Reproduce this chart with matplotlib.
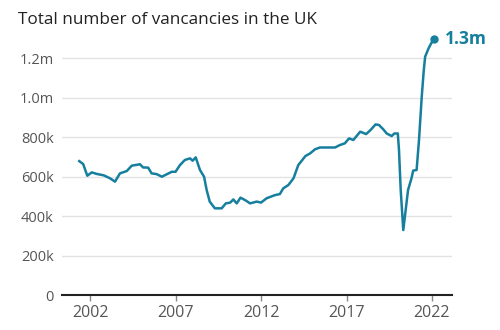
import matplotlib
matplotlib.use("Agg")
import matplotlib.pyplot as plt

title = "Total number of vancancies in the UK"
years = [2001.37, 2001.6, 2001.84, 2002.1, 2002.4, 2002.8, 2003.17, 2003.46, 2003.75, 2004.15,
         2004.44, 2004.92, 2005.1, 2005.4, 2005.6, 2005.9, 2006.2, 2006.5, 2006.78, 2007.0,
         2007.26, 2007.55, 2007.85, 2008.0, 2008.18, 2008.43, 2008.67, 2008.82, 2009.0, 2009.3,
         2009.5, 2009.7, 2009.94, 2010.2, 2010.38, 2010.58, 2010.8, 2011.1, 2011.36, 2011.75,
         2012.0, 2012.33, 2012.82, 2013.1, 2013.3, 2013.6, 2013.9, 2014.18, 2014.6, 2014.87,
         2015.16, 2015.45, 2015.84, 2016.33, 2016.6, 2016.9, 2017.15, 2017.4, 2017.8, 2018.15,
         2018.4, 2018.7, 2018.9, 2019.15, 2019.35, 2019.64, 2019.8, 2020.0, 2020.07, 2020.17,
         2020.32, 2020.46, 2020.6, 2020.8, 2020.9, 2021.1, 2021.24, 2021.4, 2021.52, 2021.6,
         2021.8, 2021.95, 2022.1]
vacancies_k = [678, 663, 604, 621, 613, 606, 591, 574, 616, 628,
               655, 662, 646, 645, 616, 612, 599, 612, 624, 624,
               658, 684, 692, 680, 697, 633, 599, 532, 473, 439,
               439, 439, 464, 468, 484, 464, 493, 479, 464, 473,
               468, 490, 506, 511, 540, 557, 591, 658, 704, 717,
               738, 747, 747, 747, 759, 768, 793, 785, 827, 815,
               835, 864, 861, 839, 818, 805, 818, 818, 734, 532,
               329, 430, 532, 591, 630, 633, 785, 1004, 1139, 1207,
               1249, 1274, 1294]
y_ticks = [0, 200, 400, 600, 800, 1000, 1200]
y_labels = ["0", "200k", "400k", "600k", "800k", "1.0m", "1.2m"]
x_ticks = [2002, 2007, 2012, 2017, 2022]
end_label = "1.3m"

plt.rcParams['font.family'] = ['Open Sans', 'DejaVu Sans']
color = "#167f9e"

fig = plt.figure(figsize=(5, 3.3), dpi=100)
ax = fig.add_axes([0.124, 0.106, 0.78, 0.778])
ax.set_xlim(2000.36, 2023.17)
ax.set_ylim(0, 1300)

ax.plot(years, vacancies_k, color=color, lw=1.8, clip_on=False, zorder=3, solid_joinstyle='round')
ax.plot([years[-1]], [vacancies_k[-1]], 'o', color=color, ms=5, clip_on=False, zorder=4)
ax.annotate(end_label, (years[-1], vacancies_k[-1]), xytext=(8, 0), textcoords='offset points',
            ha='left', va='center', color=color, fontsize=12.5, fontweight='bold', annotation_clip=False)

for s in ['top', 'right', 'left']:
    ax.spines[s].set_visible(False)
ax.spines['bottom'].set_color('#222222')
ax.spines['bottom'].set_linewidth(1.5)
ax.spines['bottom'].set_zorder(5)

ax.set_yticks(y_ticks)
ax.set_yticklabels(y_labels)
ax.yaxis.grid(True, color='#e2e2e2', lw=1)
ax.set_axisbelow(True)
ax.tick_params(axis='y', length=0, pad=6, labelsize=10.5, labelcolor='#555555')
ax.set_xticks(x_ticks)
ax.set_xticklabels([str(x) for x in x_ticks])
ax.tick_params(axis='x', length=4, width=1, color='#888888', pad=3, labelsize=11.5, labelcolor='#555555')

fig.text(0.036, 0.965, title, ha='left', va='top', fontsize=12.3, color='#222222')

fig.savefig("out.png", dpi=100)
